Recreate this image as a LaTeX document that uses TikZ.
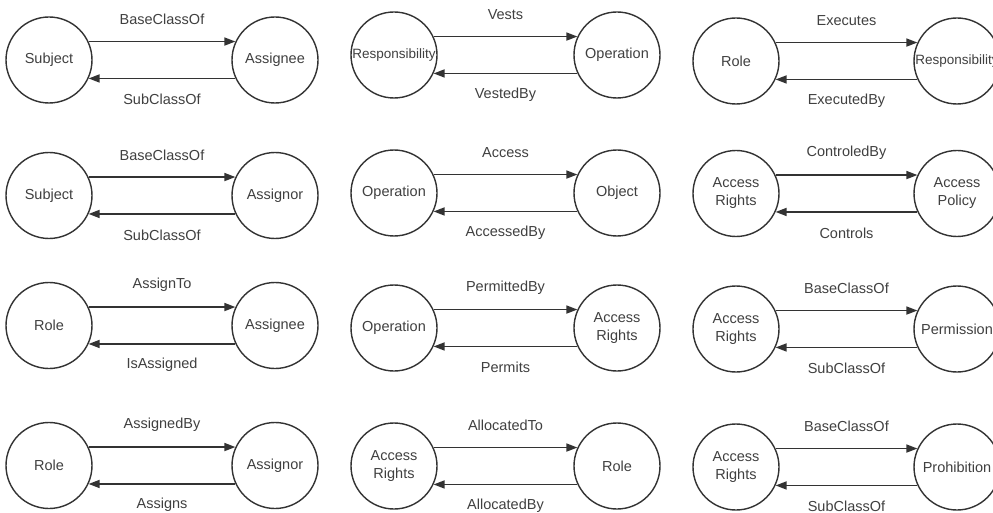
\documentclass[tikz,border=0pt]{standalone}
\usepackage{fontspec}
\setmainfont{Liberation Sans}
\usetikzlibrary{arrows.meta}
\definecolor{ink}{HTML}{333333}
\definecolor{txt}{HTML}{404040}

% one pair of concepts joined by a relation and its inverse
% #1 name prefix, #2 x left, #3 x right, #4 y, #5 left text, #6 right text,
% #7 forward label, #8 backward label
\newcommand\relpair[8]{%
  \node[concept] (#1a) at (#2,#4) {#5};
  \node[concept] (#1b) at (#3,#4) {#6};
  \draw[rel] (#1a.25) -- node[rellabel, yshift=22pt] {#7} (#1b.155);
  \draw[rel] (#1b.205) -- node[rellabel, yshift=-21pt] {#8} (#1a.-25);
}
\newcommand\smalltxt[1]{{\fontsize{13.5}{16}\selectfont #1}}

\begin{document}
\begin{tikzpicture}[x=1pt,y=-1pt,
  concept/.style={circle, draw=ink, line width=1.4pt, minimum size=86pt,
    inner sep=0pt, text=txt, align=center, font=\fontsize{14.5}{18}\selectfont},
  rel/.style={draw=ink, line width=1.6pt, -{Triangle[length=11pt,width=8pt]}},
  rellabel/.style={text=txt, inner sep=0pt, font=\fontsize{14.5}{17}\selectfont}
]
\useasboundingbox[fill=white] (0,0) rectangle (993,513);

% first column
\relpair{p1}{49}{275}{60}{Subject}{Assignee}{BaseClassOf}{SubClassOf}
\relpair{p2}{49}{275}{195.5}{Subject}{Assignor}{BaseClassOf}{SubClassOf}
\relpair{p3}{49}{275}{325.5}{Role}{Assignee}{AssignTo}{IsAssigned}
\relpair{p4}{49}{275}{465.5}{Role}{Assignor}{AssignedBy}{Assigns}

% second column
\relpair{q1}{394}{617}{55}{\smalltxt{Responsibility}}{Operation}{Vests}{VestedBy}
\relpair{q2}{394}{617}{193}{Operation}{Object}{Access}{AccessedBy}
\relpair{q3}{394}{617}{328}{Operation}{Access\\Rights}{PermittedBy}{Permits}
\relpair{q4}{394}{617}{466}{Access\\Rights}{Role}{AllocatedTo}{AllocatedBy}

% third column
\relpair{r1}{736}{957}{61}{Role}{\smalltxt{Responsibility}}{Executes}{ExecutedBy}
\relpair{r2}{736}{957}{193.5}{Access\\Rights}{Access\\Policy}{ControledBy}{Controls}
\relpair{r3}{736}{957}{329}{Access\\Rights}{Permission}{BaseClassOf}{SubClassOf}
\relpair{r4}{736}{957}{467}{Access\\Rights}{Prohibition}{BaseClassOf}{SubClassOf}
\end{tikzpicture}
\end{document}
